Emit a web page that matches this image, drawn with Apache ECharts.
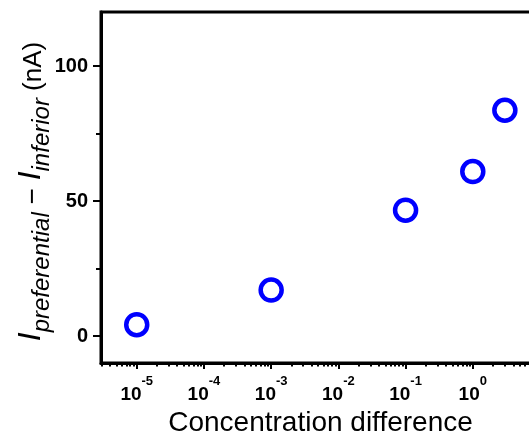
<!DOCTYPE html>
<html>
<head>
<meta charset="utf-8">
<script src="https://cdn.jsdelivr.net/npm/echarts@6/dist/echarts.min.js"></script>
<style>
  html, body { margin: 0; padding: 0; background: #ffffff; }
  #chart { width: 529px; height: 434px; }
</style>
</head>
<body>
<div id="chart"></div>
<script>
// Measured current difference against concentration difference (log scale)
const concentration = [1e-5, 1e-3, 1e-1, 1, 3];
const currentDiff = [4.2, 17.0, 46.6, 60.9, 83.6];

// Axis ticks
const xDecades = [1e-6, 1e-5, 1e-4, 1e-3, 1e-2, 1e-1, 1, 10];
const xMajorTicks = [1e-5, 1e-4, 1e-3, 1e-2, 1e-1, 1, 10];
const xMinorMultipliers = [2, 3, 4, 5, 6, 7, 8, 9];
const yMajorTicks = [0, 50, 100];
const yMinorTicks = [25, 75];

const xMinorTicks = [];
xDecades.forEach(d => xMinorMultipliers.forEach(m => xMinorTicks.push(d * m)));

const X_MIN = 2.94e-6;
const X_MAX = 10;
const Y_MIN = -10;
const Y_MAX = 120;

const FONT = 'Liberation Sans';

const chart = echarts.init(document.getElementById('chart'), null, { renderer: 'canvas' });

const points = concentration.map((c, i) => [c, currentDiff[i]]);

chart.setOption({
  animation: false,
  backgroundColor: '#ffffff',
  grid: {
    left: 101, top: 12, right: -11, bottom: 71,
    outerBoundsMode: 'none',
    containLabel: false,
    show: true, borderColor: '#000000', borderWidth: 3,
    backgroundColor: 'transparent'
  },
  xAxis: [
    {
      type: 'log', logBase: 10, min: X_MIN, max: X_MAX,
      position: 'bottom',
      axisLine: { show: true, onZero: false, lineStyle: { color: '#000', width: 3 } },
      axisTick: { show: true, inside: false, length: 6, customValues: xMajorTicks,
                  lineStyle: { color: '#000', width: 2 } },
      splitLine: { show: false },
      axisLabel: {
        customValues: xMajorTicks,
        margin: 12,
        showMaxLabel: false,
        fontFamily: FONT, fontSize: 18, fontWeight: 'bold', color: '#000',
        formatter: v => '{b|10}{s|' + Math.round(Math.log10(v)) + '}',
        rich: {
          b: { fontFamily: FONT, fontSize: 19, fontWeight: 'bold', color: '#000', lineHeight: 29, verticalAlign: 'bottom' },
          s: { fontFamily: FONT, fontSize: 13, fontWeight: 'bold', color: '#000', lineHeight: 13, verticalAlign: 'top' }
        }
      },
      name: 'Concentration difference',
      nameLocation: 'middle',
      nameGap: 33,
      nameTextStyle: { fontFamily: FONT, fontSize: 28, color: '#000' }
    },
    {
      type: 'log', logBase: 10, min: X_MIN, max: X_MAX,
      position: 'bottom',
      axisLine: { show: false, onZero: false },
      axisTick: { show: true, inside: false, length: 3.5, customValues: xMinorTicks,
                  lineStyle: { color: '#000', width: 2 } },
      axisLabel: { show: false },
      splitLine: { show: false }
    }
  ],
  yAxis: [
    {
      type: 'value', min: Y_MIN, max: Y_MAX,
      position: 'left',
      axisLine: { show: true, onZero: false, lineStyle: { color: '#000', width: 3 } },
      axisTick: { show: true, inside: false, length: 8, customValues: yMajorTicks,
                  lineStyle: { color: '#000', width: 2 } },
      splitLine: { show: false },
      axisLabel: {
        customValues: yMajorTicks,
        margin: 13,
        fontFamily: FONT, fontSize: 20, fontWeight: 'bold', color: '#000'
      },
      name: '{I|I}{sub|preferential}{m| − }{I|I}{sub|inferior}{n| (nA)}',
      nameLocation: 'middle',
      nameRotate: 90,
      nameGap: 47,
      nameMoveOverlap: false,
      nameTextStyle: {
        rich: {
          I: { fontFamily: FONT, fontSize: 32, fontStyle: 'italic', color: '#000', verticalAlign: 'bottom', padding: [0, 0, 7, 0] },
          sub: { fontFamily: FONT, fontSize: 24, fontStyle: 'italic', color: '#000', verticalAlign: 'bottom' },
          m: { fontFamily: FONT, fontSize: 28, color: '#000', verticalAlign: 'bottom', padding: [0, 0, 7, 0] },
          n: { fontFamily: FONT, fontSize: 26, color: '#000', verticalAlign: 'bottom', padding: [0, 8, 7, 0] }
        }
      }
    },
    {
      type: 'value', min: Y_MIN, max: Y_MAX,
      position: 'left',
      axisLine: { show: false, onZero: false },
      axisTick: { show: true, inside: false, length: 5, customValues: yMinorTicks,
                  lineStyle: { color: '#000', width: 2 } },
      axisLabel: { show: false },
      splitLine: { show: false }
    }
  ],
  series: [
    {
      type: 'scatter',
      xAxisIndex: 0,
      yAxisIndex: 0,
      data: points,
      symbol: 'circle',
      symbolSize: 21,
      itemStyle: { color: '#ffffff', borderColor: '#0000ff', borderWidth: 4.5, opacity: 1 },
      z: 5
    }
  ]
});
</script>
</body>
</html>
